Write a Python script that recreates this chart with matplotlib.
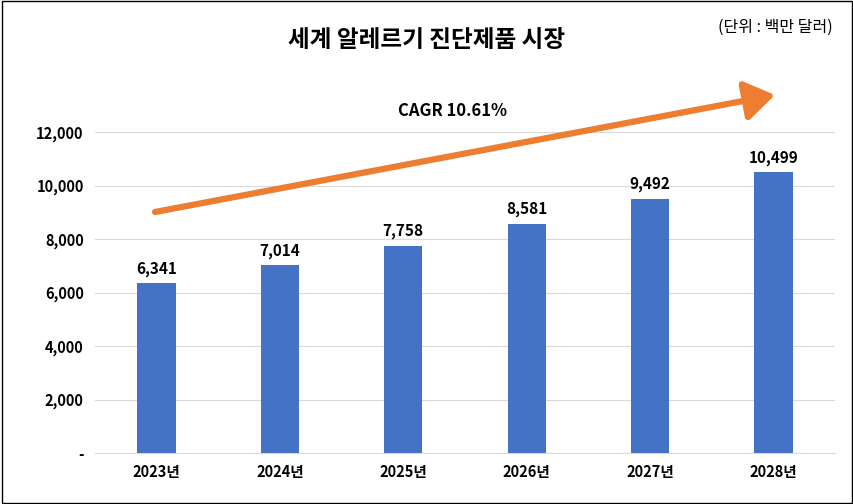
import matplotlib
matplotlib.use("Agg")
import matplotlib.pyplot as plt
from matplotlib.patches import Rectangle, FancyArrowPatch

years = ["2023년", "2024년", "2025년", "2026년", "2027년", "2028년"]
values = [6341, 7014, 7758, 8581, 9492, 10499]
yticks = [0, 2000, 4000, 6000, 8000, 10000, 12000]
ytick_labels = ["-", "2,000", "4,000", "6,000", "8,000", "10,000", "12,000"]
title = "세계 알레르기 진단제품 시장"
unit = "(단위 : 백만 달러)"
cagr = "CAGR 10.61%"

plt.rcParams["font.family"] = ["Noto Sans CJK JP", "Noto Sans CJK KR", "Noto Sans CJK SC", "DejaVu Sans"]
fig = plt.figure(figsize=(8.54, 5.04), dpi=100)
fig.patches.append(Rectangle((0.002, 0.002), 0.996, 0.996, transform=fig.transFigure,
                             fill=False, edgecolor="black", linewidth=1))
ax = fig.add_axes([0.111, 0.101, 0.867, 0.637])
x = range(len(years))
ax.bar(x, values, width=0.31, color="#4472C4", zorder=3)
for i, v in zip(x, values):
    ax.text(i, v + 250, f"{v:,}", ha="center", va="bottom", fontsize=11, fontweight="bold")
ax.set_ylim(0, 12000)
ax.set_xlim(-0.5, len(years) - 0.5)
ax.set_yticks(yticks)
ax.set_yticklabels(ytick_labels, fontsize=10.5, fontweight="bold")
ax.set_xticks(list(x))
ax.set_xticklabels(years, fontsize=10.5, fontweight="bold")
ax.grid(axis="y", color="#d9d9d9", linewidth=0.8, zorder=0)
for s in ["top", "right", "left"]:
    ax.spines[s].set_visible(False)
ax.spines["bottom"].set_color("#d9d9d9")
ax.tick_params(length=0, pad=8)

fig.text(0.5, 0.92, title, ha="center", va="center", fontsize=17, fontweight="bold")
fig.text(0.975, 0.945, unit, ha="right", va="center", fontsize=11.5)
fig.text(0.53, 0.78, cagr, ha="center", va="center", fontsize=12, fontweight="bold")
fig.add_artist(FancyArrowPatch(
    (155 / 854, 1 - 212 / 504), (775 / 854, 1 - 95 / 504), transform=fig.transFigure,
    arrowstyle="-|>,head_length=0.9,head_width=0.6", color="#ED7D31", linewidth=4.5,
    mutation_scale=20, shrinkA=0, shrinkB=0))
fig.savefig("out.png", dpi=100)
